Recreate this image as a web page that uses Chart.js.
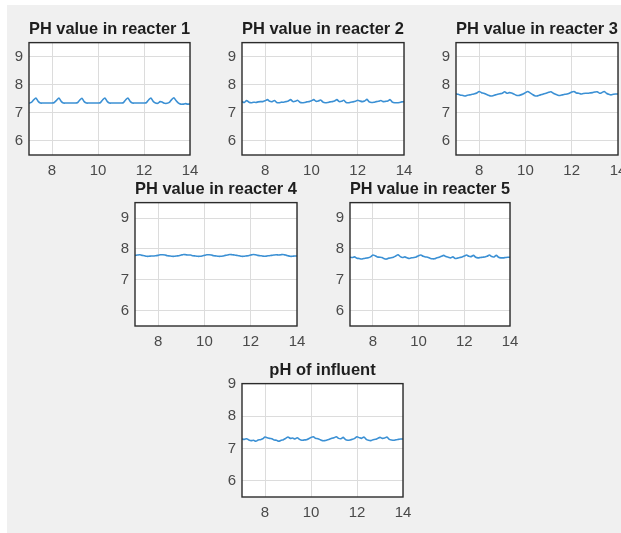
<!DOCTYPE html>
<html>
<head>
<meta charset="utf-8">
<script src="https://cdn.jsdelivr.net/npm/chart.js@4.4.1/dist/chart.umd.min.js"></script>
<style>
    html, body { margin: 0; padding: 0; background: #fff; overflow: hidden; width: 621px; height: 533px; }
    #figure { position: absolute; left: 7px; top: 5px; width: 614px; height: 528px; background: #f0f0f0; }
    canvas { position: absolute; }
</style>
</head>
<body>
<div id="figure"></div>
<script>
// sampling times (x axis)
const xValues = [
    7.0, 7.1, 7.2, 7.3, 7.4, 7.5, 7.6, 7.7, 7.8, 7.9,
    8.0, 8.1, 8.2, 8.3, 8.4, 8.5, 8.6, 8.7, 8.8, 8.9,
    9.0, 9.1, 9.2, 9.3, 9.4, 9.5, 9.6, 9.7, 9.8, 9.9,
    10.0, 10.1, 10.2, 10.3, 10.4, 10.5, 10.6, 10.7, 10.8, 10.9,
    11.0, 11.1, 11.2, 11.3, 11.4, 11.5, 11.6, 11.7, 11.8, 11.9,
    12.0, 12.1, 12.2, 12.3, 12.4, 12.5, 12.6, 12.7, 12.8, 12.9,
    13.0, 13.1, 13.2, 13.3, 13.4, 13.5, 13.6, 13.7, 13.8, 13.9,
    14.0,
];

const phReactor1 = [
    7.34, 7.37, 7.46, 7.53, 7.41, 7.35, 7.35, 7.35, 7.35, 7.35,
    7.35, 7.37, 7.45, 7.53, 7.41, 7.35, 7.35, 7.35, 7.35, 7.35,
    7.35, 7.36, 7.45, 7.52, 7.40, 7.35, 7.35, 7.35, 7.35, 7.35,
    7.35, 7.36, 7.46, 7.53, 7.41, 7.35, 7.35, 7.35, 7.35, 7.35,
    7.35, 7.36, 7.46, 7.53, 7.41, 7.35, 7.35, 7.35, 7.35, 7.35,
    7.35, 7.36, 7.46, 7.53, 7.41, 7.35, 7.34, 7.40, 7.38, 7.34,
    7.34, 7.37, 7.47, 7.54, 7.43, 7.35, 7.31, 7.31, 7.33, 7.31,
    7.32,
];

const phReactor2 = [
    7.40, 7.37, 7.44, 7.38, 7.36, 7.38, 7.37, 7.39, 7.40, 7.40,
    7.43, 7.47, 7.41, 7.40, 7.44, 7.37, 7.36, 7.38, 7.38, 7.40,
    7.42, 7.47, 7.40, 7.41, 7.45, 7.38, 7.36, 7.37, 7.39, 7.40,
    7.43, 7.47, 7.41, 7.42, 7.46, 7.38, 7.36, 7.37, 7.39, 7.40,
    7.42, 7.47, 7.40, 7.41, 7.45, 7.37, 7.36, 7.38, 7.39, 7.41,
    7.45, 7.42, 7.40, 7.42, 7.48, 7.39, 7.37, 7.38, 7.40, 7.41,
    7.44, 7.40, 7.41, 7.42, 7.47, 7.38, 7.36, 7.36, 7.37, 7.39,
    7.40,
];

const phReactor3 = [
    7.68, 7.66, 7.63, 7.62, 7.60, 7.63, 7.64, 7.66, 7.68, 7.71,
    7.76, 7.72, 7.70, 7.66, 7.63, 7.60, 7.61, 7.64, 7.66, 7.68,
    7.70, 7.75, 7.70, 7.72, 7.71, 7.67, 7.63, 7.62, 7.64, 7.67,
    7.72, 7.76, 7.71, 7.66, 7.61, 7.60, 7.63, 7.65, 7.68, 7.70,
    7.73, 7.75, 7.70, 7.66, 7.63, 7.62, 7.64, 7.66, 7.67, 7.70,
    7.74, 7.76, 7.71, 7.70, 7.67, 7.69, 7.70, 7.70, 7.71, 7.72,
    7.74, 7.75, 7.70, 7.72, 7.76, 7.70, 7.66, 7.64, 7.66, 7.67,
    7.67,
];

const phReactor4 = [
    7.79, 7.80, 7.81, 7.79, 7.78, 7.76, 7.76, 7.77, 7.77, 7.78,
    7.79, 7.81, 7.81, 7.80, 7.78, 7.77, 7.76, 7.76, 7.77, 7.78,
    7.80, 7.82, 7.81, 7.80, 7.80, 7.78, 7.77, 7.76, 7.76, 7.77,
    7.79, 7.81, 7.81, 7.80, 7.78, 7.77, 7.76, 7.76, 7.77, 7.79,
    7.80, 7.82, 7.81, 7.80, 7.79, 7.78, 7.76, 7.76, 7.77, 7.78,
    7.80, 7.82, 7.81, 7.79, 7.78, 7.77, 7.76, 7.77, 7.78, 7.79,
    7.80, 7.81, 7.80, 7.81, 7.82, 7.80, 7.78, 7.76, 7.76, 7.77,
    7.77,
];

const phReactor5 = [
    7.73, 7.72, 7.74, 7.70, 7.69, 7.67, 7.69, 7.70, 7.71, 7.74,
    7.80, 7.78, 7.74, 7.73, 7.72, 7.68, 7.67, 7.70, 7.71, 7.73,
    7.77, 7.81, 7.75, 7.72, 7.74, 7.71, 7.69, 7.71, 7.72, 7.74,
    7.78, 7.80, 7.76, 7.74, 7.73, 7.70, 7.68, 7.68, 7.71, 7.73,
    7.76, 7.79, 7.75, 7.73, 7.71, 7.74, 7.69, 7.70, 7.72, 7.74,
    7.77, 7.80, 7.76, 7.75, 7.79, 7.73, 7.71, 7.72, 7.73, 7.74,
    7.76, 7.80, 7.75, 7.74, 7.79, 7.73, 7.71, 7.71, 7.72, 7.73,
    7.73,
];

const phInfluent = [
    7.29, 7.28, 7.30, 7.26, 7.24, 7.25, 7.22, 7.26, 7.27, 7.30,
    7.35, 7.33, 7.31, 7.30, 7.26, 7.25, 7.22, 7.25, 7.27, 7.31,
    7.35, 7.31, 7.32, 7.29, 7.33, 7.28, 7.25, 7.26, 7.27, 7.30,
    7.34, 7.36, 7.31, 7.30, 7.27, 7.24, 7.24, 7.26, 7.28, 7.31,
    7.33, 7.36, 7.31, 7.30, 7.34, 7.27, 7.25, 7.26, 7.28, 7.31,
    7.36, 7.33, 7.31, 7.35, 7.28, 7.25, 7.24, 7.27, 7.28, 7.31,
    7.34, 7.31, 7.32, 7.35, 7.28, 7.26, 7.25, 7.27, 7.28, 7.29,
    7.29,
];

const xTicks = [8, 10, 12, 14];
const yTicks = [6, 7, 8, 9];
const xLimits = [7, 14];
const yLimits = [[5.5, 9.5], [5.5, 9.5], [5.5, 9.5], [5.5, 9.5], [5.5, 9.5], [5.5, 9]];
const titles = [
    'PH value in reacter 1',
    'PH value in reacter 2',
    'PH value in reacter 3',
    'PH value in reacter 4',
    'PH value in reacter 5',
    'pH of influent',
];
const series = [phReactor1, phReactor2, phReactor3, phReactor4, phReactor5, phInfluent];

// axes boxes on the page (left, top, width, height)
const boxes = [
    { l: 29, t: 43, w: 161, h: 112 },
    { l: 242, t: 43, w: 162, h: 112 },
    { l: 456, t: 43, w: 162, h: 112 },
    { l: 135, t: 203, w: 162, h: 123 },
    { l: 350, t: 203, w: 160, h: 123 },
    { l: 242, t: 384, w: 161, h: 113 },
];

const AXIS_W = 30;
const AXIS_H = 30;
const TITLE_H = 24;
const RIGHT_PAD = 18;
const FONT = '"Liberation Sans", Arial, Helvetica, sans-serif';

const axesBox = {
    id: 'axesBox',
    beforeDraw(chart) {
        const { ctx, chartArea: a } = chart;
        ctx.save();
        ctx.fillStyle = '#ffffff';
        ctx.fillRect(a.left, a.top, a.right - a.left, a.bottom - a.top);
        ctx.restore();
    },
    afterDraw(chart) {
        const { ctx, chartArea: a } = chart;
        ctx.save();
        ctx.strokeStyle = '#2b2b2b';
        ctx.lineWidth = 1.4;
        ctx.strokeRect(a.left, a.top, a.right - a.left, a.bottom - a.top);
        ctx.restore();
    },
};

function makePanel(i) {
    const box = boxes[i];
    const canvas = document.createElement('canvas');
    const w = AXIS_W + box.w + RIGHT_PAD;
    const h = TITLE_H + box.h + AXIS_H;
    canvas.width = w;
    canvas.height = h;
    canvas.style.left = (box.l - AXIS_W) + 'px';
    canvas.style.top = (box.t - TITLE_H) + 'px';
    canvas.style.width = w + 'px';
    canvas.style.height = h + 'px';
    document.body.appendChild(canvas);

    new Chart(canvas, {
        type: 'line',
        data: {
            datasets: [{
                data: xValues.map((x, k) => ({ x, y: series[i][k] })),
                borderColor: '#3b90d4',
                borderWidth: 1.6,
                pointRadius: 0,
                tension: 0.25,
                fill: false,
            }],
        },
        plugins: [axesBox],
        options: {
            responsive: false,
            animation: false,
            devicePixelRatio: 1,
            layout: { padding: { left: 0, right: RIGHT_PAD, top: 0, bottom: 0 } },
            plugins: {
                legend: { display: false },
                tooltip: { enabled: false },
                title: {
                    display: true,
                    text: titles[i],
                    fullSize: false,
                    color: '#1e1e1e',
                    font: { family: FONT, size: 16.5, weight: 'bold', lineHeight: 1.25 },
                    padding: { top: 0, bottom: 3 },
                },
            },
            scales: {
                x: {
                    type: 'linear',
                    min: xLimits[0],
                    max: xLimits[1],
                    afterBuildTicks: s => { s.ticks = xTicks.map(v => ({ value: v })); },
                    afterFit: s => { s.height = AXIS_H; },
                    grid: { color: '#dcdcdc', drawTicks: false },
                    border: { display: false },
                    ticks: { color: '#4a4a4a', padding: 7, maxRotation: 0, font: { family: FONT, size: 15 } },
                },
                y: {
                    min: yLimits[i][0],
                    max: yLimits[i][1],
                    afterBuildTicks: s => { s.ticks = yTicks.map(v => ({ value: v })); },
                    afterFit: s => { s.width = AXIS_W; },
                    grid: { color: '#dcdcdc', drawTicks: false },
                    border: { display: false },
                    ticks: { color: '#4a4a4a', padding: 6, font: { family: FONT, size: 15 } },
                },
            },
        },
    });
}

for (let i = 0; i < titles.length; i++) {
    makePanel(i);
}
</script>
</body>
</html>
